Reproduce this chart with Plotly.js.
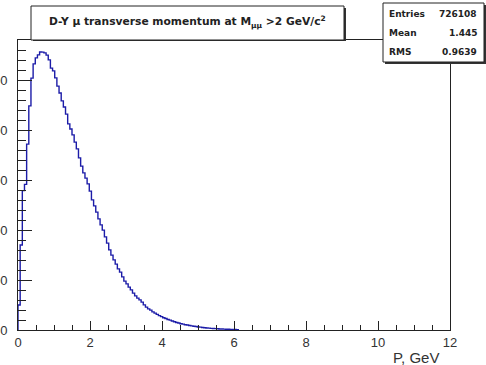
<!DOCTYPE html>
<html>
<head>
<meta charset="utf-8">
<script src="https://cdn.plot.ly/plotly-3.0.1.min.js"></script>
<style>
html,body{margin:0;padding:0;background:#fff;}
#chart{width:486px;height:365px;}
</style>
</head>
<body>
<div id="chart"></div>
<script>
// Histogram: pT of muons, bins of 0.06 GeV starting at 0
const binStart = 0;
const binWidth = 0.06;
const counts = [
  2000, 6800, 11150, 11650, 14870, 17930, 20150, 21290, 21770, 22010,
  22240, 22230, 22170, 21990, 21610, 20950, 20730, 20170, 19510, 18960,
  18330, 17840, 17270, 16490, 16080, 15610, 15030, 14490, 13770, 13110,
  12570, 12150, 11690, 11110, 10410, 9930, 9430, 8890, 8410, 7990,
  7450, 6950, 6410, 5990, 5610, 5270, 4890, 4630, 4250, 3910,
  3690, 3430, 3210, 2950, 2730, 2550, 2410, 2230, 2010, 1830,
  1690, 1590, 1450, 1350, 1250, 1150, 1070, 985, 925, 842,
  788, 716, 661, 597, 556, 501, 468, 421, 395, 357,
  331, 302, 275, 246, 227, 205, 186, 165, 154, 133,
  122, 110, 97, 86, 81, 71, 65, 55, 49, 43,
  40, 31
];
const xTickVals = [0, 2, 4, 6, 8, 10, 12];
const xTickText = ["0", "2", "4", "6", "8", "10", "12"];
const yTickVals = [0, 4000, 8000, 12000, 16000, 20000];
const yTickText = ["0", "4000", "8000", "12000", "16000", "20000"];
const titleText = "D-Y \u03bc transverse momentum at M<sub>\u03bc\u03bc</sub> >2 GeV/c<sup>2</sup>";
const xTitle = "P, GeV";
const statNames = ["Entries", "Mean", "RMS"];
const statValues = ["726108", "1.445", "0.9639"];

// build step outline from bins
const xs = [binStart], ys = [0];
for (let i = 0; i < counts.length; i++) {
  xs.push(binStart + i * binWidth);
  ys.push(counts[i]);
}
xs.push(binStart + counts.length * binWidth);
ys.push(0);

const W = 486, H = 365;
const M = {l: 18, r: 36, t: 40, b: 35};
const pw = W - M.l - M.r, ph = H - M.t - M.b;
const px = v => (v - M.l) / pw;          // pixel x -> paper
const py = v => (H - M.b - v) / ph;      // pixel y -> paper

const ink = '#222';
const shapes = [
  // title box shadow + box
  {type:'rect', xref:'paper', yref:'paper', x0:px(33), x1:px(346), y0:py(41), y1:py(8), fillcolor:'#333', line:{width:0}, layer:'above'},
  {type:'rect', xref:'paper', yref:'paper', x0:px(31), x1:px(344), y0:py(40), y1:py(6), fillcolor:'#fff', line:{color:ink, width:1}, layer:'above'},
  // stats box shadow + box
  {type:'rect', xref:'paper', yref:'paper', x0:px(385), x1:px(490), y0:py(64), y1:py(5), fillcolor:'#333', line:{width:0}, layer:'above'},
  {type:'rect', xref:'paper', yref:'paper', x0:px(383), x1:px(484), y0:py(62), y1:py(3), fillcolor:'#fff', line:{color:ink, width:1}, layer:'above'}
];

const statFont = {family:'DejaVu Sans', size:9, color:ink, weight:'bold'};
const statY = [14, 33, 52];
const annotations = [
  {text:titleText, xref:'paper', yref:'paper', x:px(187), y:py(22), xanchor:'center', yanchor:'middle', showarrow:false,
   font:{family:'DejaVu Sans', size:10.7, color:ink, weight:'bold'}},
  {text:xTitle, xref:'paper', yref:'paper', x:px(441), y:py(357), xanchor:'right', yanchor:'middle', showarrow:false,
   font:{family:'Liberation Sans', size:15, color:'#333'}}
];
statNames.forEach((n, i) => {
  annotations.push({text:n, xref:'paper', yref:'paper', x:px(387), y:py(statY[i]), xanchor:'left', yanchor:'middle', showarrow:false, font:statFont});
  annotations.push({text:statValues[i], xref:'paper', yref:'paper', x:px(479), y:py(statY[i]), xanchor:'right', yanchor:'middle', showarrow:false, font:statFont});
});

const trace = {
  type:'scatter', mode:'lines', x:xs, y:ys,
  line:{shape:'hv', color:'#1c1ca8', width:1.4},
  hoverinfo:'skip', showlegend:false
};

const tickFont = {family:'Liberation Sans', size:13, color:'#333'};
const layout = {
  width:W, height:H,
  margin:M,
  paper_bgcolor:'#fff', plot_bgcolor:'#fff',
  showlegend:false,
  xaxis:{
    range:[0, 12], tickmode:'array', tickvals:xTickVals, ticktext:xTickText,
    ticks:'inside', ticklen:9, tickwidth:1, tickcolor:ink,
    minor:{ticks:'inside', ticklen:5, dtick:0.5, tickwidth:1, tickcolor:ink, showgrid:false},
    showline:true, mirror:true, linecolor:ink, linewidth:1,
    showgrid:false, zeroline:false, tickfont:tickFont, automargin:false, fixedrange:true
  },
  yaxis:{
    range:[0, 23200], tickmode:'array', tickvals:yTickVals, ticktext:yTickText,
    ticks:'inside', ticklen:14, tickwidth:1, tickcolor:ink,
    minor:{ticks:'inside', ticklen:8, dtick:800, tickwidth:1, tickcolor:ink, showgrid:false},
    showline:true, mirror:true, linecolor:ink, linewidth:1,
    showgrid:false, zeroline:false, tickfont:tickFont, automargin:false, fixedrange:true,
    ticklabelstandoff:7
  },
  shapes:shapes,
  annotations:annotations
};

Plotly.newPlot('chart', [trace], layout, {staticPlot:true, displayModeBar:false});
</script>
</body>
</html>
